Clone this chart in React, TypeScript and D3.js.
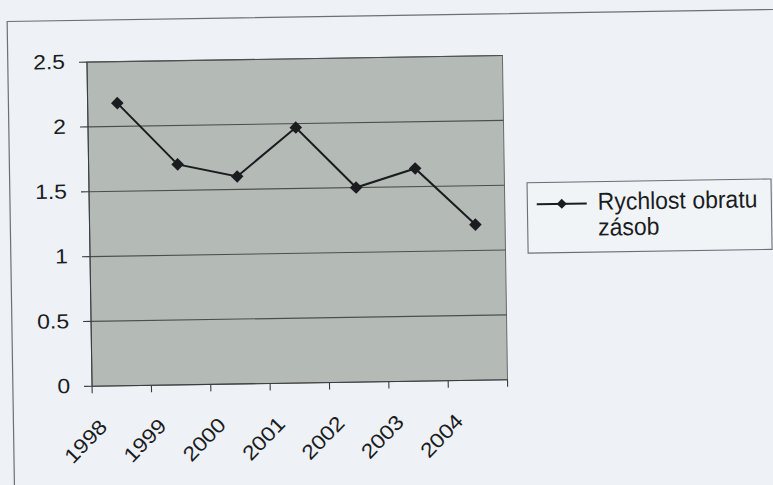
import React from "react";
import * as d3 from "d3";

const categories = ["1998", "1999", "2000", "2001", "2002", "2003", "2004"];
const values = [2.18, 1.7, 1.6, 1.97, 1.5, 1.64, 1.2];
const yTicks = [0, 0.5, 1, 1.5, 2, 2.5];
const yTickLabels = ["0", "0.5", "1", "1.5", "2", "2.5"];
const legendLines = ["Rychlost obratu", "zásob"];

const W = 773;
const H = 485;
const FONT = "'Liberation Sans', Arial, sans-serif";

export default function App() {
  const plot = { left: 89.5, right: 505, top: 58.8, bottom: 383 };
  const x = d3.scaleBand<string>().domain(categories).range([plot.left, plot.right]);
  const y = d3.scaleLinear().domain([0, 2.5]).range([plot.bottom, plot.top]);
  const cx = (c: string) => (x(c) as number) + x.bandwidth() / 2;

  const line = d3
    .line<number>()
    .x((_, i) => cx(categories[i]))
    .y((d) => y(d));

  const diamond = (px: number, py: number, r: number) =>
    `M${px},${py - r}L${px + r},${py}L${px},${py + r}L${px - r},${py}Z`;

  const ink = "#1b1c1f";
  const legend = { x: 527.6, y: 186.4, w: 244, h: 70.4 };

  return (
    <svg
      width={W}
      height={H}
      style={{ position: "absolute", left: 0, top: 0, background: "#eef2f6" }}
      fontFamily={FONT}
    >
      <rect x={0} y={0} width={W} height={H} fill="#eef2f6" />
      <g transform="rotate(-0.9, 297, 221)">
        {/* outer chart border */}
        <rect x={10.3} y={17} width={W + 40} height={H + 40} fill="none" stroke="#6c6f73" strokeWidth={1.2} />

        {/* plot area */}
        <rect
          x={plot.left}
          y={plot.top}
          width={plot.right - plot.left}
          height={plot.bottom - plot.top}
          fill="#b4bbb7"
          stroke="#666a68"
          strokeWidth={1}
        />

        {/* gridlines */}
        {yTicks.slice(1).map((t) => (
          <line
            key={"g" + t}
            x1={plot.left}
            x2={plot.right}
            y1={y(t)}
            y2={y(t)}
            stroke="#4b504d"
            strokeWidth={1.1}
          />
        ))}

        {/* y axis */}
        <line x1={plot.left} x2={plot.left} y1={plot.top} y2={plot.bottom} stroke="#3a3d3f" strokeWidth={1.1} />
        {yTicks.map((t, i) => (
          <g key={"y" + t}>
            <line x1={plot.left - 8} x2={plot.left} y1={y(t)} y2={y(t)} stroke="#3a3d3f" strokeWidth={1.1} />
            <text
              transform={`translate(67.5, ${y(t) + 6.5}) scale(1.12, 1)`}
              textAnchor="end"
              fontSize={20.5}
              fill={ink}
            >
              {yTickLabels[i]}
            </text>
          </g>
        ))}

        {/* x axis */}
        <line x1={plot.left} x2={plot.right} y1={plot.bottom} y2={plot.bottom} stroke="#3a3d3f" strokeWidth={1.1} />
        {[...categories.map((c) => x(c) as number), plot.right].map((tx, i) => (
          <line key={"xt" + i} x1={tx} x2={tx} y1={plot.bottom} y2={plot.bottom + 7} stroke="#3a3d3f" strokeWidth={1.1} />
        ))}
        {categories.map((c) => (
          <text
            key={"xl" + c}
            transform={`translate(${cx(c) - 14}, 425) rotate(-45) scale(1.12, 1)`}
            textAnchor="end"
            fontSize={20.5}
            fill={ink}
          >
            {c}
          </text>
        ))}

        {/* series */}
        <path d={line(values) as string} fill="none" stroke={ink} strokeWidth={2} />
        {values.map((v, i) => (
          <path key={"m" + i} d={diamond(cx(categories[i]), y(v), 6.3)} fill={ink} />
        ))}

        {/* legend */}
        <rect x={legend.x} y={legend.y} width={legend.w} height={legend.h} fill="#f1f4f7" stroke="#6c6f73" strokeWidth={1.1} />
        <line x1={537} x2={587} y1={208} y2={208} stroke={ink} strokeWidth={2} />
        <path d={diamond(562, 208, 5)} fill={ink} />
        {legendLines.map((t, i) => (
          <text
            key={"lg" + i}
            transform={`translate(598, ${214.6 + i * 25.7}) scale(1.0, 1.06)`}
            fontSize={23}
            fill={ink}
          >
            {t}
          </text>
        ))}
      </g>
    </svg>
  );
}
